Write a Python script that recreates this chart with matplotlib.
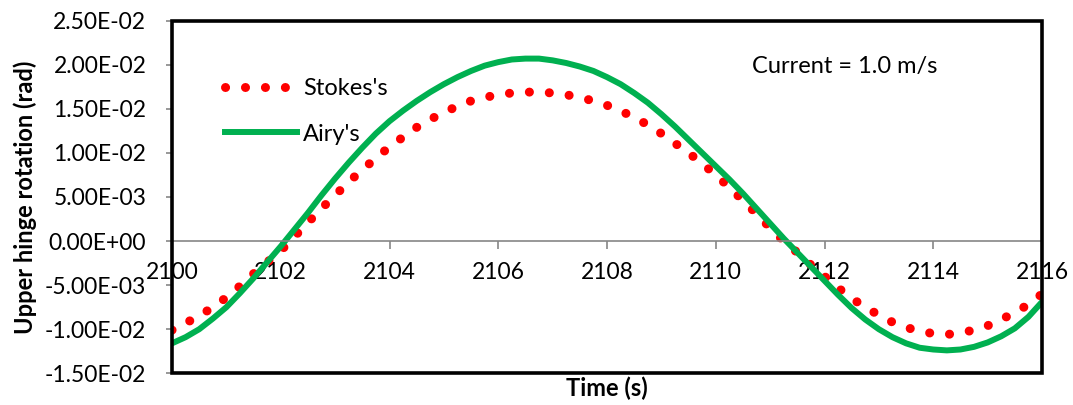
import matplotlib
matplotlib.use('Agg')
import matplotlib.pyplot as plt
from matplotlib.patches import Rectangle
from matplotlib.ticker import FuncFormatter, MultipleLocator

plt.rcParams['font.family'] = ['Lato', 'DejaVu Sans']

# time (s) and upper hinge rotation (rad) for the two wave theories
time_s = [2100.00, 2100.25, 2100.50, 2100.75, 2101.00, 2101.25, 2101.50, 2101.75,
          2102.00, 2102.25, 2102.50, 2102.75, 2103.00, 2103.25, 2103.50, 2103.75,
          2104.00, 2104.25, 2104.50, 2104.75, 2105.00, 2105.25, 2105.50, 2105.75,
          2106.00, 2106.25, 2106.50, 2106.75, 2107.00, 2107.25, 2107.50, 2107.75,
          2108.00, 2108.25, 2108.50, 2108.75, 2109.00, 2109.25, 2109.50, 2109.75,
          2110.00, 2110.25, 2110.50, 2110.75, 2111.00, 2111.25, 2111.50, 2111.75,
          2112.00, 2112.25, 2112.50, 2112.75, 2113.00, 2113.25, 2113.50, 2113.75,
          2114.00, 2114.25, 2114.50, 2114.75, 2115.00, 2115.25, 2115.50, 2115.75,
          2116.00]
stokes = [-0.0101, -0.0093, -0.0085, -0.0075, -0.0064, -0.0051, -0.0037, -0.0024,
          -0.0011, 0.0005, 0.0021, 0.0037, 0.0052, 0.0067, 0.0081, 0.0094,
          0.0107, 0.0118, 0.0129, 0.0138, 0.0146, 0.0153, 0.0159, 0.0163,
          0.0166, 0.0168, 0.0169, 0.0169, 0.0168, 0.0166, 0.0163, 0.0159,
          0.0154, 0.0148, 0.0140, 0.0132, 0.0122, 0.0111, 0.0100, 0.0088,
          0.0075, 0.0061, 0.0046, 0.0031, 0.0015, 0.0000, -0.0013, -0.0027,
          -0.0040, -0.0053, -0.0065, -0.0075, -0.0084, -0.0092, -0.0098, -0.0102,
          -0.0105, -0.0106, -0.0104, -0.0101, -0.0096, -0.0089, -0.0081, -0.0072,
          -0.0060]
airy = [-0.0116, -0.0109, -0.0100, -0.0088, -0.0075, -0.0059, -0.0042, -0.0024,
        -0.0006, 0.0013, 0.0032, 0.0052, 0.0071, 0.0089, 0.0106, 0.0122,
        0.0136, 0.0148, 0.0159, 0.0169, 0.0178, 0.0186, 0.0193, 0.0199,
        0.0203, 0.0206, 0.0207, 0.0207, 0.0205, 0.0202, 0.0198, 0.0193,
        0.0186, 0.0178, 0.0168, 0.0157, 0.0144, 0.0130, 0.0115, 0.0100,
        0.0085, 0.0070, 0.0054, 0.0037, 0.0020, 0.0003, -0.0013, -0.0029,
        -0.0045, -0.0061, -0.0076, -0.0089, -0.0100, -0.0109, -0.0116, -0.0121,
        -0.0123, -0.0124, -0.0123, -0.0120, -0.0115, -0.0108, -0.0099, -0.0086,
        -0.0069]

fig = plt.figure(figsize=(10.73, 4.05), dpi=100)
ax = fig.add_axes([172/1073, (405-373.3)/405, 870/1073, 352.6/405])

# round dots along the path, like a spreadsheet "round dot" line
ax.plot(time_s, stokes, color='#FF0000', lw=6.5, linestyle=(0, (0.01, 2.2)),
        dash_capstyle='round', label="Stokes's", zorder=2)
ax.plot(time_s, airy, color='#00B050', lw=4.3, solid_joinstyle='round',
        label="Airy's", zorder=2.1)

ax.set_xlim(2100, 2116)
ax.set_ylim(-0.015, 0.025)
ax.xaxis.set_major_locator(MultipleLocator(2))
ax.yaxis.set_major_locator(MultipleLocator(0.005))
ax.xaxis.set_major_formatter(FuncFormatter(lambda v, p: '%d' % v))
ax.yaxis.set_major_formatter(FuncFormatter(
    lambda v, p: '0.00E+00' if abs(v) < 1e-12 else '%.2E' % v))

gray = '#868686'
ax.spines['top'].set_visible(False)
ax.spines['right'].set_visible(False)
ax.spines['bottom'].set_position(('data', 0))
ax.spines['bottom'].set_color(gray)
ax.spines['bottom'].set_linewidth(1.2)
ax.spines['left'].set_color(gray)
ax.spines['left'].set_linewidth(1.2)
ax.tick_params(axis='x', direction='out', length=6, width=1.2, color=gray,
               labelsize=16.5, pad=9)
ax.tick_params(axis='y', direction='out', length=4.5, width=1.2, color=gray,
               labelsize=16.5, pad=14)

# black frame round the plot area
ax.add_patch(Rectangle((0, 0), 1, 1, transform=ax.transAxes, fill=False,
                       ec='black', lw=2.6, clip_on=False, zorder=3))

ax.set_xlabel('Time (s)', fontsize=17, fontweight='bold')
ax.xaxis.set_label_coords(0.5, -0.008)
ax.set_ylabel('Upper hinge rotation (rad)', fontsize=17, fontweight='bold')
ax.yaxis.set_label_coords(-0.155, 0.5)

ax.text(0.667, 0.8695, 'Current = 1.0 m/s', transform=ax.transAxes,
        fontsize=17, va='center', ha='left')

ax.legend(loc='upper left', bbox_to_anchor=(0.061, 0.838), frameon=False,
          fontsize=17, handlelength=3.05, handletextpad=0.25,
          labelspacing=1.05, borderpad=0, borderaxespad=0)

fig.savefig('out.png', dpi=100)
